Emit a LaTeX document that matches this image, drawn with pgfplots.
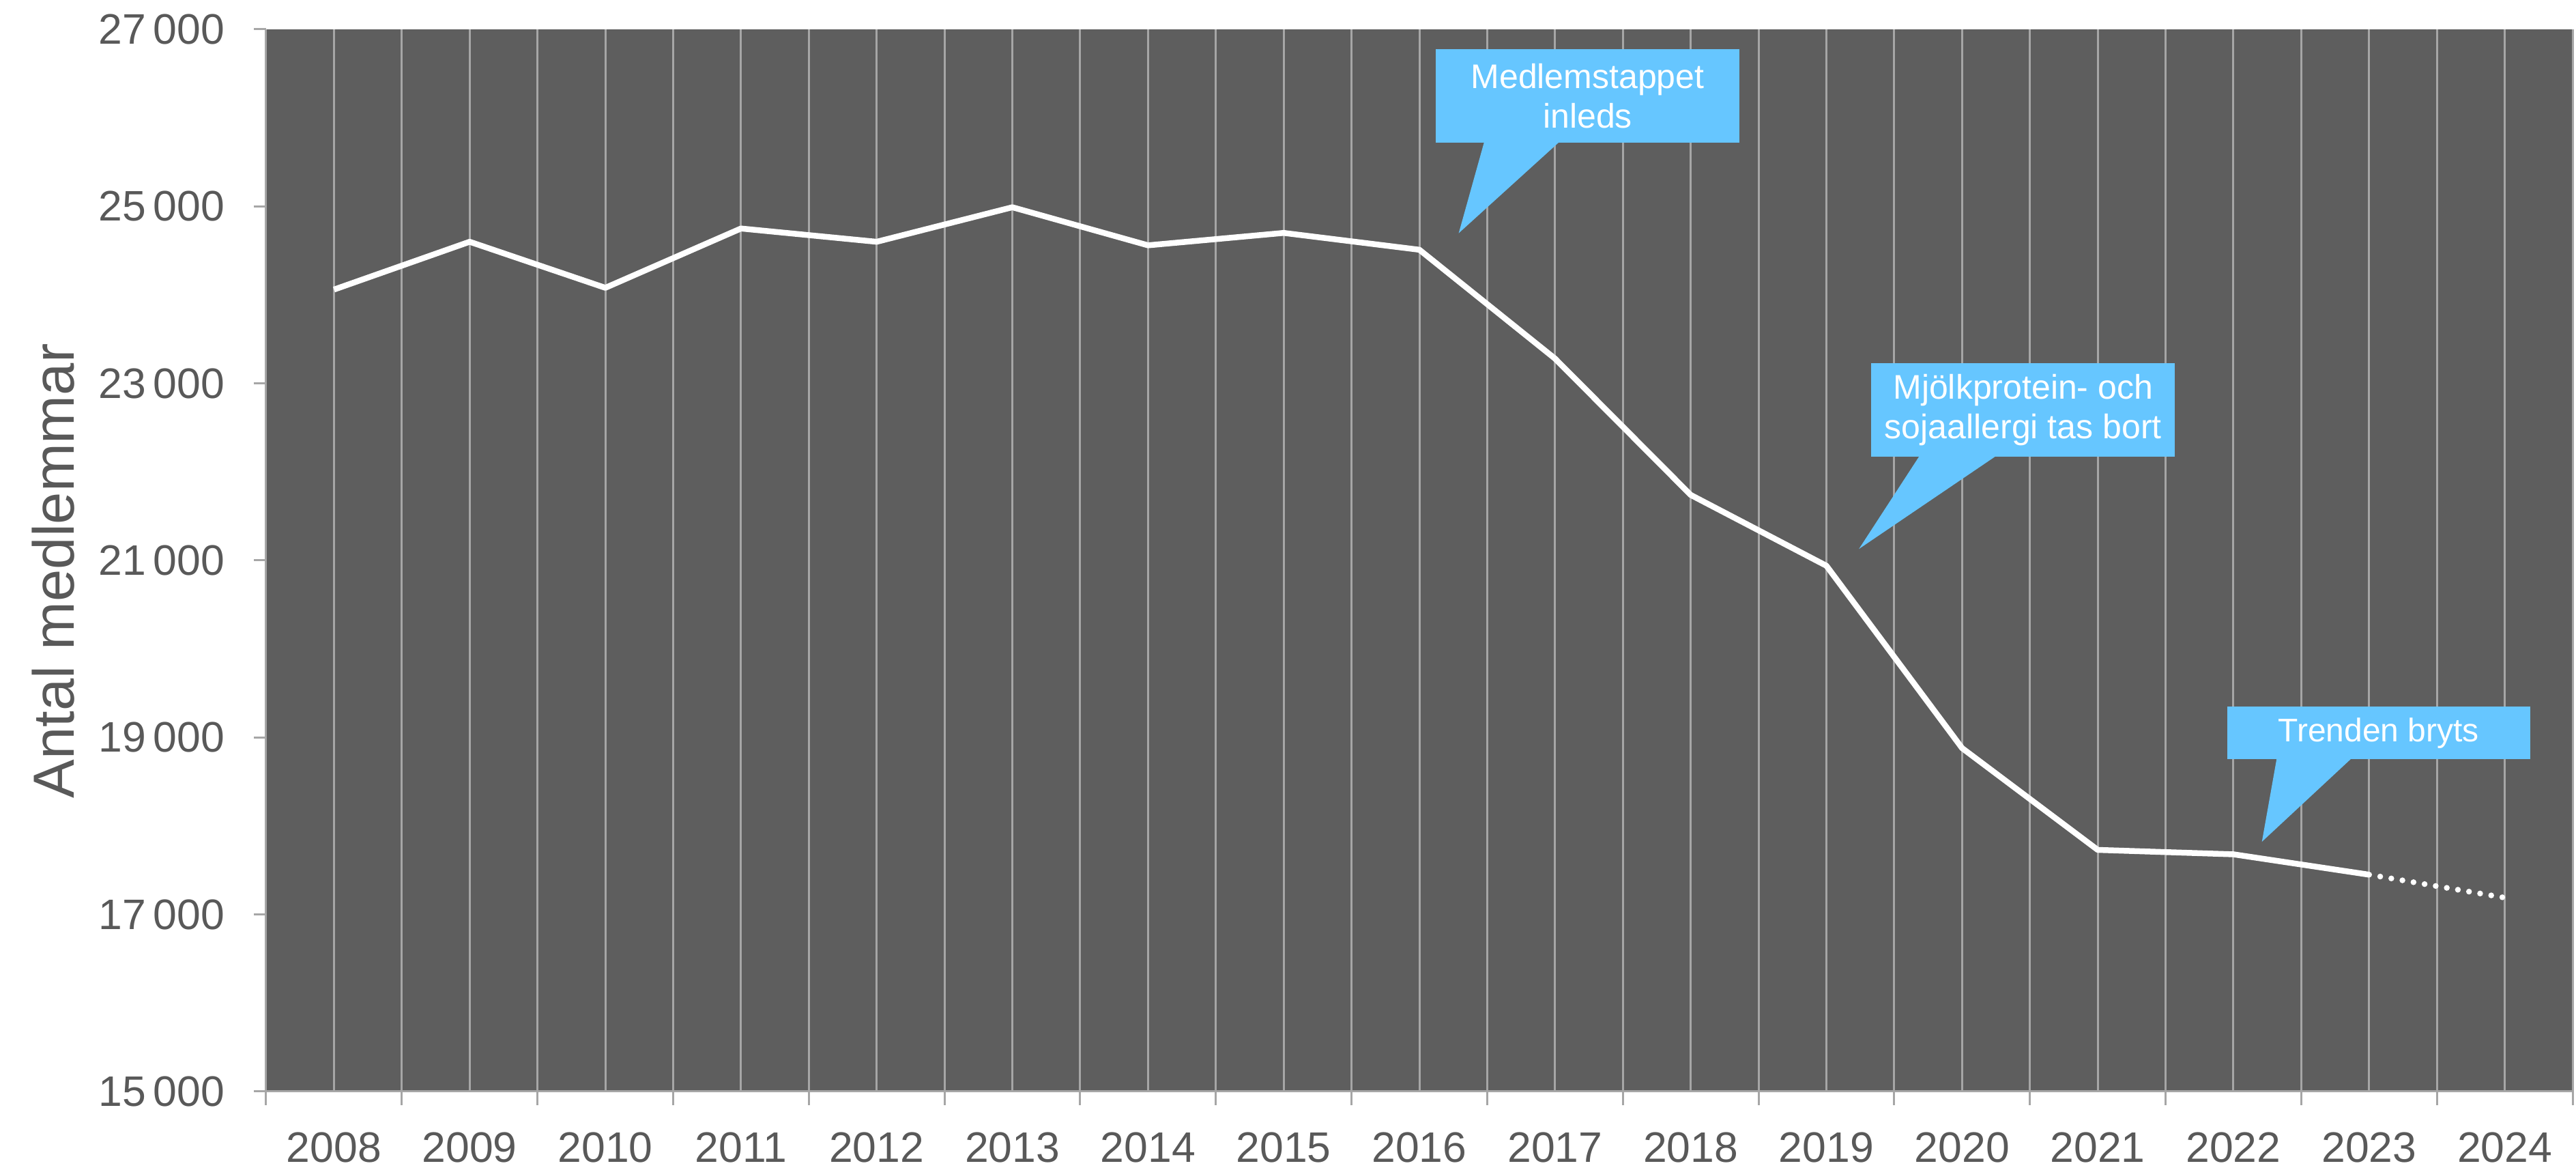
\documentclass[border=0pt]{standalone}
\usepackage{pgfplots}
\pgfplotsset{compat=1.18}
\usepackage{fontspec}
\setmainfont{Liberation Sans}
\definecolor{bg}{HTML}{5E5E5E}
\definecolor{gridc}{HTML}{A6A6A6}
\definecolor{callout}{HTML}{66C6FF}
\definecolor{txt}{HTML}{595959}
\begin{document}
\begin{tikzpicture}
\useasboundingbox (-78pt,-22.4pt) rectangle (677pt,319.8pt);
\begin{axis}[
  at={(0,0)}, anchor=south west,
  width=676pt, height=311.2pt, scale only axis,
  xmin=-0.5, xmax=16.5, ymin=15000, ymax=27000,
  axis background/.style={fill=bg},
  axis lines=left,
  axis line style={-, draw=gridc, line width=0.6pt},
  tick align=outside,
  xtick={0,...,16},
  xticklabels={2008,2009,2010,2011,2012,2013,2014,2015,2016,2017,2018,2019,2020,2021,2022,2023,2024},
  minor xtick={-0.5,0.5,...,16.5},
  major x tick style={draw=none},
  minor x tick style={draw=gridc, line width=0.6pt},
  minor tick length=4pt,
  major tick length=3.6pt,
  y tick style={draw=gridc, line width=0.6pt},
  xmajorgrids, xminorgrids,
  major grid style={draw=gridc, line width=0.6pt},
  minor grid style={draw=gridc, line width=0.6pt},
  ytick={15000,17000,19000,21000,23000,25000,27000},
  yticklabels={15\,000,17\,000,19\,000,21\,000,23\,000,25\,000,27\,000},
  ticklabel style={font=\fontsize{12.5}{14}\selectfont, text=txt, inner sep=0pt},
  xticklabel style={yshift=-8.2pt},
  yticklabel style={xshift=-8.4pt},
  every axis y label/.style={at={(axis description cs:-0.0923,0.49)}, rotate=90, anchor=center},
  ylabel={Antal medlemmar},
  ylabel style={font=\fontsize{17}{20}\selectfont, text=txt},
  clip=false,
]
\addplot[white, line width=1.7pt, line join=round] coordinates {
(0,24060) (1,24600) (2,24080) (3,24750) (4,24600) (5,24990) (6,24560) (7,24700)
(8,24510) (9,23280) (10,21740) (11,20940) (12,18880) (13,17730) (14,17680) (15,17450)
};
\addplot[white, line width=1.7pt, line cap=round, dash pattern=on 0pt off 3.3pt] coordinates {
(15,17450) (16,17190)
};
% callout 1
\fill[callout] (axis cs:8.12,26777) rectangle (axis cs:10.36,25718);
\fill[callout] (axis cs:8.48,25740) -- (axis cs:8.29,24697) -- (axis cs:9.04,25740) -- cycle;
\node[text=white, align=center, font=\fontsize{10}{11.5}\selectfont] at (axis cs:9.24,26248) {Medlemstappet\\inleds};
% callout 2
\fill[callout] (axis cs:11.33,23229) rectangle (axis cs:13.57,22170);
\fill[callout] (axis cs:11.69,22190) -- (axis cs:11.24,21130) -- (axis cs:12.26,22190) -- cycle;
\node[text=white, align=center, font=\fontsize{10}{11.5}\selectfont] at (axis cs:12.45,22700) {Mjölkprotein- och\\sojaallergi tas bort};
% callout 3
\fill[callout] (axis cs:13.955,19347) rectangle (axis cs:16.19,18752);
\fill[callout] (axis cs:14.32,18770) -- (axis cs:14.21,17822) -- (axis cs:14.875,18770) -- cycle;
\node[text=white, align=center, font=\fontsize{9.6}{11.5}\selectfont] at (axis cs:15.07,19050) {Trenden bryts};
\end{axis}
\end{tikzpicture}
\end{document}
